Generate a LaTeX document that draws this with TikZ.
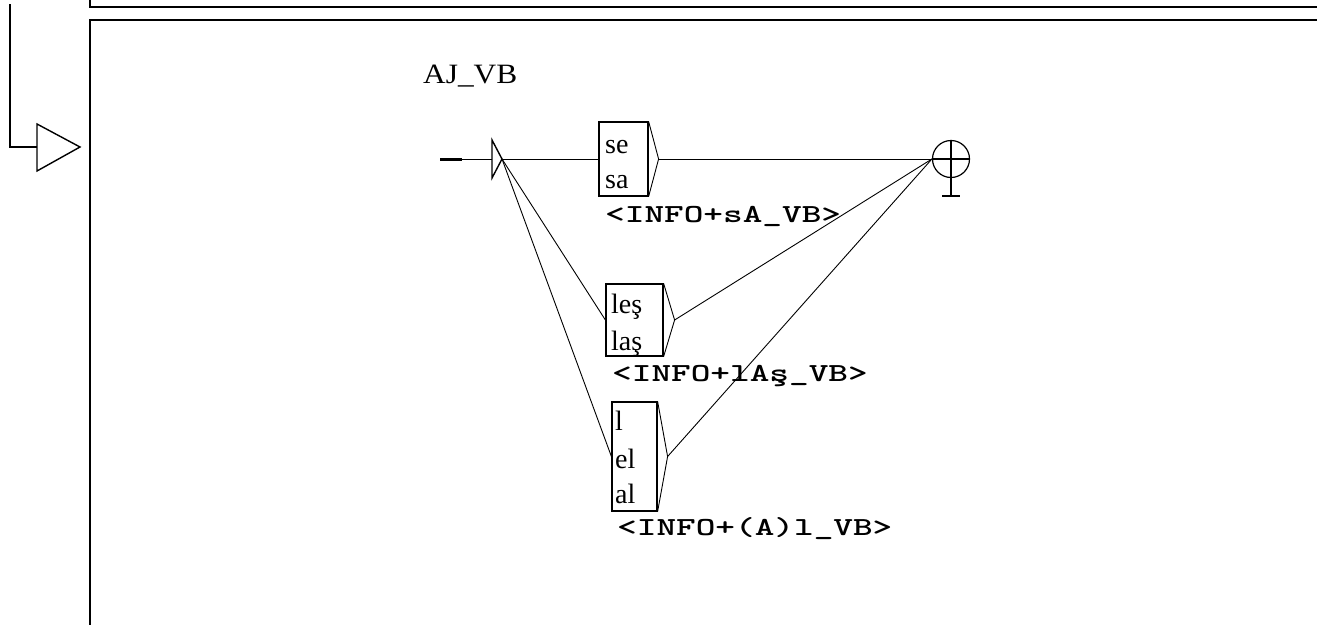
\documentclass[tikz,border=0pt]{standalone}
\usepackage{fontspec}
\usepackage{graphicx}
\usetikzlibrary{calc}
\setmainfont{Liberation Serif}
\newcommand\hstretch[2]{\scalebox{#1}[1]{#2}}
\begin{document}
\begin{tikzpicture}[x=1pt,y=-1pt,
  frame/.style={line width=2pt},
  wire/.style={line width=0.9pt},
  boxn/.style={draw, line width=1.2pt, inner sep=0pt, rectangle},
  txt/.style={inner sep=0pt, anchor=base west, font=\fontsize{28}{30}\selectfont},
  lbl/.style={inner sep=0pt, anchor=base west, font=\fontsize{26}{28}\selectfont\ttfamily\bfseries},
]
\useasboundingbox (0,0) rectangle (1317,624);
% frames
\draw[frame] (90,-2) -- (90,7) -- (1320,7);
\draw[frame] (1320,20) -- (90,20) -- (90,630);
% left call arrow
\coordinate (lt) at (10,4);
\coordinate (e1) at (37,147);
\draw[frame] (lt) |- (e1);
\draw[line width=1.4pt] (37,124) -- (80,147) -- (37,171) -- cycle;
% title
\node[txt] (title) at (423,83) {\hstretch{1.12}{AJ\_VB}};
% initial state
\coordinate (st0) at (440,159);
\coordinate (st1) at (462,159);
\coordinate (itri) at (492,159);
\coordinate (init) at (502,159);
\draw[line width=3pt] (st0) -- (st1);
\draw[wire] (st1) -- (itri);
\draw[line width=1.4pt] (492,140) -- (init) -- (492,178) -- cycle;
% boxes
\node[boxn, minimum width=49pt, minimum height=74pt] (b1) at (623.5,159) {};
\node[boxn, minimum width=57pt, minimum height=72pt] (b2) at (634.5,320) {};
\node[boxn, minimum width=45pt, minimum height=109pt] (b3) at (634.5,456.5) {};
\coordinate (t1) at ($(b1.east)+(10,0)$);
\coordinate (t2) at ($(b2.east)+(11,0)$);
\coordinate (t3) at ($(b3.east)+(10,0)$);
\draw[wire] (b1.north east) -- (t1) -- (b1.south east);
\draw[wire] (b2.north east) -- (t2) -- (b2.south east);
\draw[wire] (b3.north east) -- (t3) -- (b3.south east);
% box texts
\node[txt] (s1) at (605,153) {se};
\node[txt] (s2) at (605,188) {sa};
\node[txt] (l1) at (611,313) {leş};
\node[txt] (l2) at (611,350) {laş};
\node[txt] (a1) at (615,430) {l};
\node[txt] (a2) at (615,468) {el};
\node[txt] (a3) at (615,503) {al};
% labels
\node[lbl] (o1) at (605,222) {\hstretch{1.44}{<INFO+sA\_VB>}};
\node[lbl] (o2) at (612,381) {\hstretch{1.44}{<INFO+lAş\_VB>}};
\node[lbl] (o3) at (617,535) {\hstretch{1.44}{<INFO+(A)l\_VB>}};
% final state
\node[draw, circle, line width=1.2pt, minimum size=37pt, inner sep=0pt] (f) at (951,159) {};
\coordinate (fb) at (951,196);
\draw[line width=1.2pt] (f.west) -- (f.east);
\draw[line width=1.2pt] (f.north) -- (fb);
\draw[line width=1.2pt] ($(fb)+(-9,0)$) -- ($(fb)+(9,0)$);
% transitions
\draw[wire] (init) -- (b1.west);
\draw[wire] (init) -- (b2.west);
\draw[wire] (init) -- (b3.west);
\draw[wire] (t1) -- (f.west);
\draw[wire] (t2) -- (f.west);
\draw[wire] (t3) -- (f.west);
\end{tikzpicture}
\end{document}
